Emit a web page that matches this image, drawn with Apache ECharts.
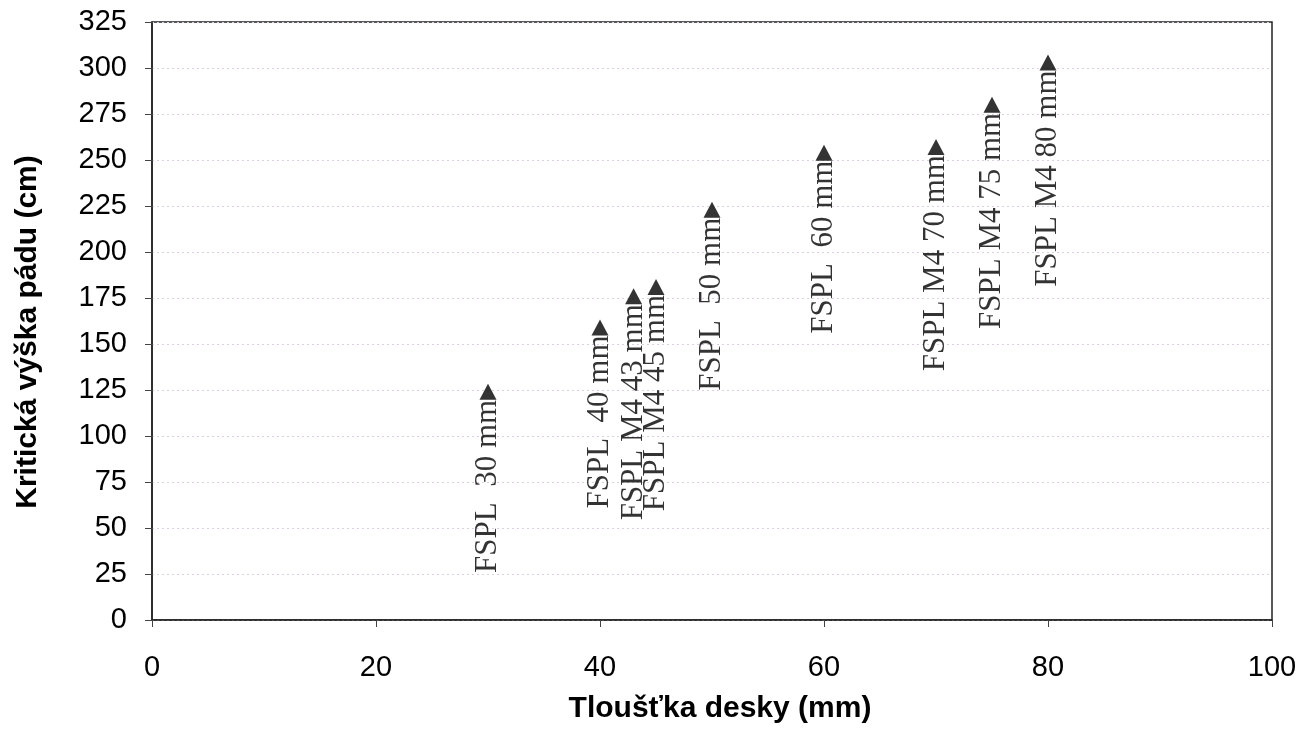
<!DOCTYPE html>
<html>
<head>
<meta charset="utf-8">
<script src="https://cdn.jsdelivr.net/npm/echarts@6/dist/echarts.min.js"></script>
<style>
  html, body { margin: 0; padding: 0; background: #fff; }
  #chart { width: 1307px; height: 737px; }
</style>
</head>
<body>
<div id="chart"></div>
<script>
// tloušťka desky (mm) a kritická výška pádu (cm)
const thickness = [30, 40, 43, 45, 50, 60, 70, 75, 80];
const dropHeight = [124, 159, 176, 181, 223, 254, 257, 280, 303];
const pointLabels = [
  "FSPL  30 mm", "FSPL  40 mm", "FSPL M4 43 mm", "FSPL M4 45 mm",
  "FSPL  50 mm", "FSPL  60 mm", "FSPL M4 70 mm", "FSPL M4 75 mm", "FSPL M4 80 mm"
];
const xTicks = [0, 20, 40, 60, 80, 100];
const yTicks = [0, 25, 50, 75, 100, 125, 150, 175, 200, 225, 250, 275, 300, 325];

const chart = echarts.init(document.getElementById("chart"));

const sansFont = "Arial, 'Liberation Sans', sans-serif";
const serifFont = "'Times New Roman', 'Liberation Serif', serif";

const commonAxis = {
  axisLine: { show: true, onZero: false, lineStyle: { color: "#222", width: 1.5 } },
  axisTick: { show: true, inside: false, length: 7, lineStyle: { color: "#444", width: 1 } },
  splitLine: { show: false }
};

chart.setOption({
  backgroundColor: "#fff",
  animation: false,
  grid: {
    left: 152,
    right: 35,
    top: 22,
    bottom: 117,
    show: true,
    borderColor: "#222",
    borderWidth: 1.5,
    backgroundColor: "transparent"
  },
  xAxis: {
    type: "value",
    min: xTicks[0],
    max: xTicks[xTicks.length - 1],
    interval: 20,
    name: "Tloušťka desky (mm)",
    nameLocation: "middle",
    nameGap: 74,
    nameTextStyle: { fontFamily: sansFont, fontWeight: "bold", fontSize: 30, color: "#000", padding: [0, 0, 0, 16] },
    axisLabel: { fontFamily: sansFont, fontSize: 29, color: "#000", margin: 33 },
    ...commonAxis
  },
  yAxis: {
    type: "value",
    min: yTicks[0],
    max: yTicks[yTicks.length - 1],
    interval: 25,
    name: "Kritická výška pádu (cm)",
    nameLocation: "middle",
    nameRotate: 90,
    nameGap: 109,
    nameTextStyle: { fontFamily: sansFont, fontWeight: "bold", fontSize: 30, color: "#000", padding: [0, 22, 0, 0] },
    axisLabel: { fontFamily: sansFont, fontSize: 29, color: "#000", margin: 25 },
    ...commonAxis,
    splitLine: {
      show: true,
      lineStyle: { color: "#dccfe0", width: 1, type: [2, 3] }
    }
  },
  series: [
    {
      type: "scatter",
      symbol: "triangle",
      symbolSize: [17, 16],
      itemStyle: { color: "#000" },
      data: thickness.map((t, i) => [t, dropHeight[i]]),
      label: {
        show: true,
        position: "bottom",
        distance: 0,
        rotate: 90,
        align: "right",
        verticalAlign: "middle",
        fontFamily: serifFont,
        fontSize: 31,
        color: "#000",
        formatter: p => pointLabels[p.dataIndex]
      }
    }
  ]
});
</script>
</body>
</html>
